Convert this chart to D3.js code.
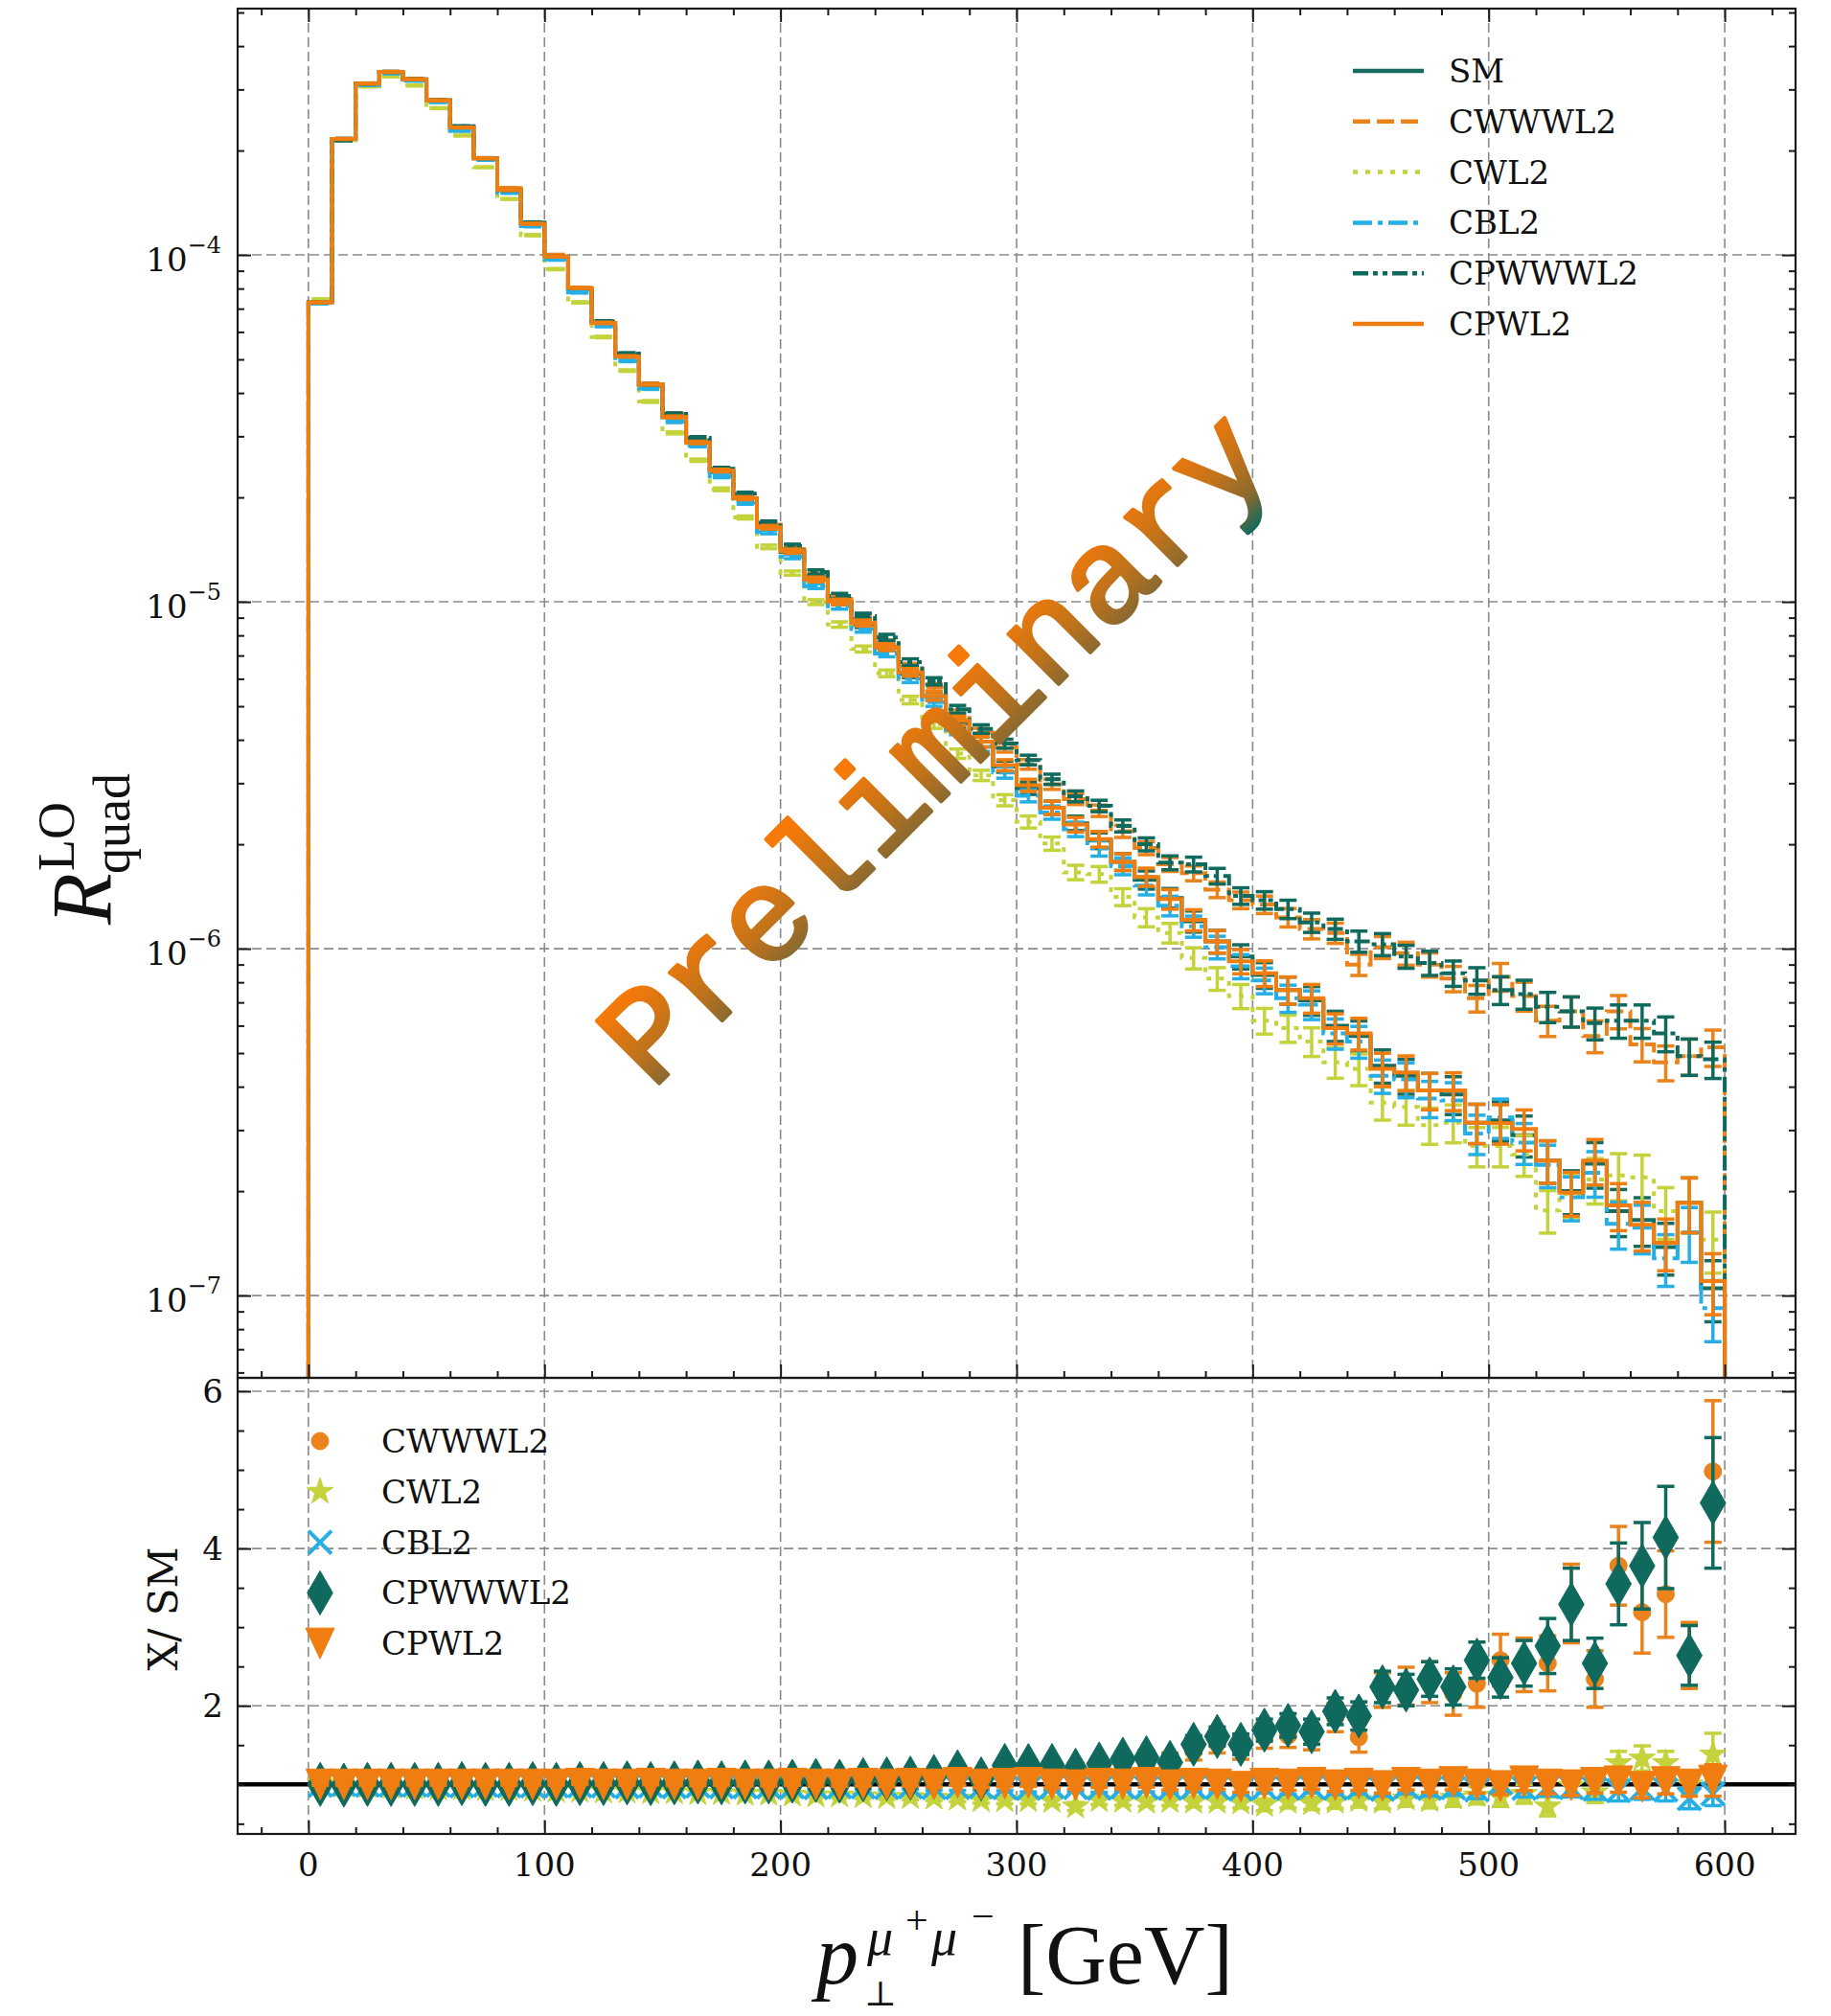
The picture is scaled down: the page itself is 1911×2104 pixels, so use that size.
<!DOCTYPE html>
<html>
<head>
<meta charset="utf-8">
<script src="https://cdn.jsdelivr.net/npm/d3@7"></script>
<style>
body { margin: 0; background: #fff; }
text { font-family: "DejaVu Serif", serif; fill: #111; }
</style>
</head>
<body>
<script>
// lower bin edges, 10 GeV bins
var binLo = [0,10,20,30,40,50,60,70,80,90,100,110,120,130,140,150,160,170,180,190,
  200,210,220,230,240,250,260,270,280,290,300,310,320,330,340,350,360,370,380,390,
  400,410,420,430,440,450,460,470,480,490,500,510,520,530,540,550,560,570,580,590];

// upper panel, R_quad per bin
var smVals = [7.3e-5,2.16e-4,3.12e-4,3.37e-4,3.21e-4,2.79e-4,2.33e-4,1.90e-4,1.54e-4,1.23e-4,
  9.9e-5,7.96e-5,6.37e-5,5.1e-5,4.2e-5,3.41e-5,2.88e-5,2.37e-5,1.99e-5,1.64e-5,
  1.39e-5,1.16e-5,1.0e-5,8.6e-6,7.4e-6,6.2e-6,5.35e-6,4.45e-6,3.95e-6,3.35e-6,
  2.9e-6,2.55e-6,2.3e-6,2.05e-6,1.78e-6,1.58e-6,1.40e-6,1.2e-6,1.05e-6,9.5e-7,
  8.4e-7,7.6e-7,7.1e-7,6.0e-7,5.6e-7,4.6e-7,4.3e-7,3.9e-7,3.8e-7,3.15e-7,
  3.2e-7,2.9e-7,2.45e-7,2.0e-7,2.4e-7,1.75e-7,1.65e-7,1.38e-7,1.85e-7,1.05e-7];
var cwwwVals = [7.3e-5,2.16e-4,3.12e-4,3.37e-4,3.21e-4,2.79e-4,2.33e-4,1.90e-4,1.56e-4,1.23e-4,
  1.0e-4,7.96e-5,6.43e-5,5.15e-5,4.2e-5,3.48e-5,2.91e-5,2.42e-5,2.01e-5,1.67e-5,
  1.42e-5,1.19e-5,1.02e-5,8.95e-6,7.6e-6,6.5e-6,5.67e-6,4.75e-6,4.2e-6,3.8e-6,
  3.4e-6,2.98e-6,2.7e-6,2.5e-6,2.18e-6,1.95e-6,1.75e-6,1.65e-6,1.48e-6,1.38e-6,
  1.34e-6,1.23e-6,1.14e-6,1.11e-6,9.0e-7,1.01e-6,9.7e-7,9.0e-7,8.2e-7,7.2e-7,
  8.3e-7,7.3e-7,6.2e-7,6.6e-7,5.6e-7,6.6e-7,5.3e-7,4.7e-7,4.9e-7,5.2e-7];
var cwVals = [7.45e-5,2.14e-4,3.06e-4,3.27e-4,3.08e-4,2.65e-4,2.21e-4,1.79e-4,1.45e-4,1.14e-4,
  9.1e-5,7.3e-5,5.8e-5,4.64e-5,3.78e-5,3.07e-5,2.56e-5,2.11e-5,1.75e-5,1.44e-5,
  1.21e-5,9.98e-6,8.6e-6,7.31e-6,6.22e-6,5.21e-6,4.44e-6,3.65e-6,3.16e-6,2.68e-6,
  2.32e-6,2.01e-6,1.66e-6,1.64e-6,1.41e-6,1.23e-6,1.11e-6,9.4e-7,8.2e-7,7.3e-7,
  6.2e-7,5.9e-7,5.4e-7,4.7e-7,4.5e-7,3.6e-7,3.5e-7,3.1e-7,3.15e-7,2.7e-7,
  2.7e-7,2.55e-7,1.76e-7,1.96e-7,2.16e-7,2.22e-7,2.19e-7,1.75e-7,1.85e-7,1.45e-7];
var cbVals = [7.25e-5,2.16e-4,3.09e-4,3.34e-4,3.18e-4,2.76e-4,2.28e-4,1.88e-4,1.51e-4,1.21e-4,
  9.7e-5,7.8e-5,6.24e-5,4.95e-5,4.12e-5,3.31e-5,2.82e-5,2.30e-5,1.93e-5,1.59e-5,
  1.35e-5,1.11e-5,9.7e-6,8.34e-6,7.1e-6,6.0e-6,5.14e-6,4.27e-6,3.83e-6,3.22e-6,
  2.76e-6,2.47e-6,2.21e-6,1.95e-6,1.73e-6,1.52e-6,1.33e-6,1.16e-6,1.01e-6,8.9e-7,
  8.1e-7,7.2e-7,6.9e-7,5.7e-7,5.4e-7,4.3e-7,4.2e-7,3.7e-7,3.65e-7,2.93e-7,
  3.26e-7,2.76e-7,2.38e-7,1.92e-7,2.26e-7,1.61e-7,1.57e-7,1.28e-7,1.52e-7,9.2e-8];
var cpwwwVals = [7.3e-5,2.14e-4,3.12e-4,3.37e-4,3.21e-4,2.79e-4,2.35e-4,1.90e-4,1.54e-4,1.24e-4,
  9.9e-5,8.04e-5,6.43e-5,5.2e-5,4.24e-5,3.48e-5,2.97e-5,2.42e-5,2.05e-5,1.69e-5,
  1.446e-5,1.218e-5,1.04e-5,9.1e-6,7.9e-6,6.7e-6,5.9e-6,4.9e-6,4.3e-6,3.9e-6,
  3.5e-6,3.08e-6,2.75e-6,2.58e-6,2.26e-6,2.0e-6,1.77e-6,1.75e-6,1.62e-6,1.42e-6,
  1.38e-6,1.3e-6,1.19e-6,1.14e-6,1.05e-6,1.03e-6,9.5e-7,9.1e-7,8.5e-7,8.1e-7,
  7.6e-7,7.4e-7,6.8e-7,6.6e-7,6.1e-7,6.2e-7,6.2e-7,5.7e-7,4.9e-7,4.8e-7];
var cpwVals = [7.3e-5,2.16e-4,3.12e-4,3.37e-4,3.21e-4,2.79e-4,2.33e-4,1.90e-4,1.54e-4,1.23e-4,
  9.9e-5,8.04e-5,6.37e-5,5.1e-5,4.24e-5,3.41e-5,2.88e-5,2.39e-5,1.99e-5,1.64e-5,
  1.40e-5,1.16e-5,1.0e-5,8.69e-6,7.4e-6,6.26e-6,5.35e-6,4.54e-6,3.95e-6,3.38e-6,
  2.96e-6,2.55e-6,2.28e-6,2.07e-6,1.78e-6,1.61e-6,1.39e-6,1.21e-6,1.05e-6,9.2e-7,
  8.5e-7,7.6e-7,7.2e-7,5.9e-7,5.7e-7,4.5e-7,4.4e-7,3.9e-7,3.9e-7,3.15e-7,
  3.14e-7,3.02e-7,2.45e-7,1.98e-7,2.45e-7,1.82e-7,1.6e-7,1.42e-7,1.85e-7,1.1e-7];

// relative stat. errors of the upper panel
var relErrLow = [.003,.003,.003,.003,.003,.003,.003,.003,.003,.004,
  .004,.004,.005,.005,.006,.007,.008,.009,.010,.012,
  .014,.016,.018,.020,.022,.025,.028,.031,.034,.037,
  .040,.044,.048,.052,.056,.060,.065,.070,.075,.080,
  .085,.090,.095,.100,.105,.110,.115,.120,.125,.130,
  .130,.135,.140,.145,.150,.155,.160,.170,.180,.200];
var relErrHigh = [.003,.003,.003,.003,.003,.003,.003,.003,.003,.004,
  .004,.004,.005,.005,.006,.007,.008,.009,.010,.012,
  .014,.015,.017,.019,.020,.022,.024,.026,.028,.030,
  .032,.034,.036,.038,.040,.043,.046,.049,.052,.055,
  .058,.061,.064,.067,.070,.073,.076,.080,.084,.088,
  .092,.096,.100,.100,.105,.110,.110,.115,.120,.120];

// lower panel, ratio X / SM
var rCWWWL2 = [1.00,1.00,1.00,1.00,1.00,1.00,1.00,1.00,1.01,1.00,
  1.01,1.00,1.01,1.01,1.00,1.02,1.01,1.02,1.01,1.02,
  1.02,1.03,1.02,1.04,1.03,1.05,1.06,1.12,1.10,1.20,
  1.22,1.20,1.20,1.24,1.28,1.30,1.30,1.42,1.52,1.45,
  1.60,1.62,1.60,1.85,1.60,2.20,2.25,2.30,2.15,2.28,
  2.58,2.52,2.54,3.30,2.34,3.78,3.19,3.42,2.64,4.98];
var rCWL2 = [1.02,0.99,0.98,0.97,0.96,0.95,0.95,0.94,0.94,0.93,
  0.92,0.92,0.91,0.91,0.90,0.90,0.89,0.89,0.88,0.88,
  0.87,0.86,0.86,0.85,0.84,0.84,0.83,0.82,0.80,0.80,
  0.80,0.79,0.72,0.80,0.79,0.78,0.79,0.78,0.78,0.77,
  0.74,0.78,0.76,0.78,0.80,0.78,0.82,0.80,0.83,0.86,
  0.84,0.88,0.72,0.98,0.90,1.27,1.33,1.27,1.00,1.38];
var rCBL2 = [0.99,1.00,0.99,0.99,0.99,0.99,0.98,0.99,0.98,0.98,
  0.98,0.98,0.98,0.97,0.98,0.97,0.98,0.97,0.97,0.97,
  0.97,0.96,0.97,0.97,0.96,0.97,0.96,0.96,0.97,0.96,
  0.95,0.97,0.96,0.95,0.97,0.96,0.95,0.97,0.96,0.94,
  0.96,0.95,0.97,0.95,0.96,0.94,0.97,0.95,0.96,0.93,
  1.02,0.95,0.97,0.96,0.94,0.92,0.95,0.93,0.82,0.88];
var rCPWWWL2 = [1.00,0.99,1.00,1.00,1.00,1.00,1.01,1.00,1.00,1.01,
  1.00,1.01,1.01,1.02,1.01,1.02,1.03,1.02,1.03,1.03,
  1.04,1.05,1.04,1.06,1.07,1.08,1.10,1.16,1.07,1.24,
  1.24,1.24,1.18,1.26,1.32,1.34,1.28,1.51,1.61,1.51,
  1.69,1.75,1.67,1.93,1.87,2.24,2.20,2.34,2.24,2.58,
  2.36,2.54,2.76,3.29,2.54,3.55,3.78,4.14,2.64,4.58];
var rCPWL2 = [1.00,1.00,1.00,1.00,1.00,1.00,1.00,1.00,1.00,1.00,
  1.00,1.01,1.00,1.00,1.01,1.00,1.00,1.01,1.00,1.00,
  1.01,1.00,1.00,1.01,1.00,1.01,1.00,1.02,1.00,1.01,
  1.02,1.00,0.99,1.01,1.00,1.02,0.99,1.01,1.00,0.97,
  1.01,1.00,1.02,0.99,1.01,0.98,1.02,1.00,1.03,1.00,
  0.98,1.04,1.00,0.99,1.02,1.04,0.97,1.03,1.00,1.05];

// absolute errors on the ratios
var eCWWWL2 = [.01,.01,.01,.01,.01,.01,.01,.01,.01,.01,
  .01,.01,.01,.015,.015,.015,.02,.02,.02,.025,
  .025,.03,.03,.035,.035,.04,.045,.05,.055,.06,
  .065,.07,.075,.08,.085,.09,.10,.11,.12,.13,
  .14,.15,.16,.18,.19,.22,.24,.26,.27,.30,
  .33,.34,.35,.50,.36,.50,.52,.55,.42,.90];
var eCWL2 = [.01,.01,.01,.01,.01,.01,.01,.01,.01,.01,
  .01,.01,.01,.015,.015,.015,.02,.02,.02,.02,
  .025,.025,.03,.03,.03,.035,.035,.04,.04,.045,
  .045,.05,.05,.055,.055,.06,.06,.065,.07,.07,
  .075,.08,.08,.085,.09,.09,.10,.10,.11,.11,
  .12,.12,.12,.13,.13,.15,.16,.15,.12,.27];
var eCBL2 = [.01,.01,.01,.01,.01,.01,.01,.01,.01,.01,
  .01,.01,.01,.01,.015,.015,.015,.02,.02,.02,
  .02,.025,.025,.03,.03,.03,.035,.035,.04,.04,
  .045,.045,.05,.05,.055,.055,.06,.06,.065,.07,
  .07,.075,.08,.08,.085,.09,.09,.10,.10,.11,
  .11,.11,.12,.12,.13,.13,.14,.14,.13,.15];
var eCPWWWL2 = [.01,.01,.01,.01,.01,.01,.01,.01,.01,.01,
  .01,.01,.01,.015,.015,.015,.02,.02,.02,.025,
  .025,.03,.03,.035,.035,.04,.045,.05,.055,.06,
  .065,.07,.075,.08,.085,.09,.10,.11,.12,.13,
  .14,.15,.16,.17,.18,.20,.20,.22,.23,.23,
  .25,.29,.35,.46,.32,.52,.55,.65,.38,.83];
var eCPWL2 = [.01,.01,.01,.01,.01,.01,.01,.01,.01,.01,
  .01,.01,.01,.01,.015,.015,.015,.02,.02,.02,
  .02,.025,.025,.03,.03,.03,.035,.035,.04,.04,
  .045,.045,.05,.05,.055,.055,.06,.06,.065,.07,
  .07,.075,.08,.08,.085,.09,.09,.10,.10,.11,
  .11,.12,.12,.13,.13,.14,.14,.15,.15,.20];

var xMajor = [0, 100, 200, 300, 400, 500, 600];
var yTopMajor = [1e-7, 1e-6, 1e-5, 1e-4];
var yBotMajor = [2, 4, 6];

var colors = {
  SM: "#176b5f", CWWWL2: "#ea831c", CWL2: "#c4d33c",
  CBL2: "#25afe4", CPWWWL2: "#0f6a5d", CPWL2: "#ef7d0f"
};

var W = 1911, H = 2104;
var left = 248, right = 1874, topY = 9, midY = 1438, botY = 1914;

var svg = d3.select("body").append("svg")
    .attr("width", W)
    .attr("height", H);

var x = d3.scaleLinear().domain([-30, 630]).range([left, right]);
var yTop = d3.scaleLog().domain([5.79e-8, 5.13e-4]).range([midY, topY]);
var yBot = d3.scaleLinear().domain([0.37, 6.17]).range([botY, midY]);

// grid
var grid = svg.append("g")
    .attr("stroke", "#8a8a8a")
    .attr("stroke-width", 1.6)
    .attr("stroke-dasharray", "10,5");
xMajor.forEach(function(v) {
  grid.append("line").attr("x1", x(v)).attr("x2", x(v)).attr("y1", topY).attr("y2", botY);
});
yTopMajor.forEach(function(v) {
  grid.append("line").attr("x1", left).attr("x2", right).attr("y1", yTop(v)).attr("y2", yTop(v));
});
yBotMajor.forEach(function(v) {
  grid.append("line").attr("x1", left).attr("x2", right).attr("y1", yBot(v)).attr("y2", yBot(v));
});

// upper panel histograms
var upper = [
  {name: "SM", vals: smVals, err: relErrLow, dash: null},
  {name: "CWWWL2", vals: cwwwVals, err: relErrHigh, dash: "18,7"},
  {name: "CWL2", vals: cwVals, err: relErrLow, dash: "5,8"},
  {name: "CBL2", vals: cbVals, err: relErrLow, dash: "20,6,5,6"},
  {name: "CPWWWL2", vals: cpwwwVals, err: relErrHigh, dash: "16,5,5,5,5,5"},
  {name: "CPWL2", vals: cpwVals, err: relErrLow, dash: null}
];

var floorVal = yTop.domain()[0];
var step = d3.line()
    .x(function(d) { return x(d[0]); })
    .y(function(d) { return yTop(d[1]); })
    .curve(d3.curveStepAfter);

var upG = svg.append("g");
upper.forEach(function(s) {
  var pts = [[0, floorVal]];
  binLo.forEach(function(b, i) { pts.push([b, s.vals[i]]); });
  pts.push([600, s.vals[s.vals.length - 1]]);
  pts.push([600, floorVal]);

  upG.append("path")
      .attr("d", step(pts))
      .attr("fill", "none")
      .attr("stroke", colors[s.name])
      .attr("stroke-width", 4)
      .attr("stroke-dasharray", s.dash);

  var eg = upG.append("g")
      .attr("stroke", colors[s.name])
      .attr("stroke-width", 3.5);
  binLo.forEach(function(b, i) {
    var cx = x(b + 5);
    var lo = yTop(s.vals[i] * (1 - s.err[i]));
    var hi = yTop(s.vals[i] * (1 + s.err[i]));
    eg.append("line").attr("x1", cx).attr("x2", cx).attr("y1", lo).attr("y2", hi);
    eg.append("line").attr("x1", cx - 9).attr("x2", cx + 9).attr("y1", lo).attr("y2", lo);
    eg.append("line").attr("x1", cx - 9).attr("x2", cx + 9).attr("y1", hi).attr("y2", hi);
  });
});

// custom markers
var triDown = {
  draw: function(ctx, size) {
    var w = Math.sqrt(size), h = w * 1.07;
    ctx.moveTo(-w, -h);
    ctx.lineTo(w, -h);
    ctx.lineTo(0, h);
    ctx.closePath();
  }
};
var xMark = {
  draw: function(ctx, size) {
    var r = Math.sqrt(size);
    ctx.moveTo(-r, -r); ctx.lineTo(r, r);
    ctx.moveTo(-r, r); ctx.lineTo(r, -r);
  }
};

// lower panel
svg.append("line")
    .attr("x1", left).attr("x2", right)
    .attr("y1", yBot(1)).attr("y2", yBot(1))
    .attr("stroke", "#000")
    .attr("stroke-width", 4.5);

var lower = [
  {name: "CWWWL2", vals: rCWWWL2, err: eCWWWL2, sym: d3.symbolCircle, size: 254},
  {name: "CWL2", vals: rCWL2, err: eCWL2, sym: d3.symbolStar, size: 240},
  {name: "CBL2", vals: rCBL2, err: eCBL2, sym: xMark, size: 144, line: true},
  {name: "CPWWWL2", vals: rCPWWWL2, err: eCPWWWL2, sym: d3.symbolDiamond, size: 611},
  {name: "CPWL2", vals: rCPWL2, err: eCPWL2, sym: triDown, size: 225}
];

function drawMarker(g, s, cx, cy) {
  var p = g.append("path")
      .attr("d", d3.symbol().type(s.sym).size(s.size)())
      .attr("transform", "translate(" + cx + "," + cy + ")");
  if (s.line) {
    p.attr("fill", "none").attr("stroke", colors[s.name]).attr("stroke-width", 4);
  } else {
    p.attr("fill", colors[s.name]).attr("stroke", colors[s.name]).attr("stroke-width", 1);
  }
}

var loG = svg.append("g");
lower.forEach(function(s) {
  var g = loG.append("g");
  var eg = g.append("g").attr("stroke", colors[s.name]).attr("stroke-width", 3.5);
  binLo.forEach(function(b, i) {
    var cx = x(b + 5);
    var lo = yBot(s.vals[i] - s.err[i]);
    var hi = yBot(s.vals[i] + s.err[i]);
    eg.append("line").attr("x1", cx).attr("x2", cx).attr("y1", lo).attr("y2", hi);
    eg.append("line").attr("x1", cx - 9).attr("x2", cx + 9).attr("y1", lo).attr("y2", lo);
    eg.append("line").attr("x1", cx - 9).attr("x2", cx + 9).attr("y1", hi).attr("y2", hi);
  });
  binLo.forEach(function(b, i) {
    drawMarker(g, s, x(b + 5), yBot(s.vals[i]));
  });
});

// frames
[[topY, midY], [midY, botY]].forEach(function(p) {
  svg.append("rect")
      .attr("x", left).attr("y", p[0])
      .attr("width", right - left).attr("height", p[1] - p[0])
      .attr("fill", "none")
      .attr("stroke", "#1a1a1a")
      .attr("stroke-width", 2.2);
});

// ticks, all pointing inwards
function ticks(gy, axis, vals, size) {
  var g = svg.append("g").attr("transform", gy);
  g.call(axis.tickValues(vals).tickSize(size).tickSizeOuter(0).tickFormat(""));
  g.select(".domain").remove();
  g.selectAll(".tick line").attr("stroke", "#1a1a1a").attr("stroke-width", 2);
}

var xMinor = d3.range(-20, 640, 20).filter(function(v) { return v % 100 !== 0; });
var yTopMinor = [];
[-8, -7, -6, -5, -4].forEach(function(e) {
  for (var k = 2; k <= 9; k++) {
    var v = k * Math.pow(10, e);
    if (v > yTop.domain()[0] && v < yTop.domain()[1]) yTopMinor.push(v);
  }
});
var yBotMinor = [0.5, 1, 1.5, 2.5, 3, 3.5, 4.5, 5, 5.5];

ticks("translate(0," + topY + ")", d3.axisTop(x), xMajor, -14);
ticks("translate(0," + topY + ")", d3.axisTop(x), xMinor, -7);
ticks("translate(0," + midY + ")", d3.axisBottom(x), xMajor, -14);
ticks("translate(0," + midY + ")", d3.axisBottom(x), xMinor, -7);
ticks("translate(0," + botY + ")", d3.axisBottom(x), xMajor, -14);
ticks("translate(0," + botY + ")", d3.axisBottom(x), xMinor, -7);
ticks("translate(" + left + ",0)", d3.axisLeft(yTop), yTopMajor, -14);
ticks("translate(" + left + ",0)", d3.axisLeft(yTop), yTopMinor, -7);
ticks("translate(" + right + ",0)", d3.axisRight(yTop), yTopMajor, -14);
ticks("translate(" + right + ",0)", d3.axisRight(yTop), yTopMinor, -7);
ticks("translate(" + left + ",0)", d3.axisLeft(yBot), yBotMajor, -14);
ticks("translate(" + left + ",0)", d3.axisLeft(yBot), yBotMinor, -7);
ticks("translate(" + right + ",0)", d3.axisRight(yBot), yBotMajor, -14);
ticks("translate(" + right + ",0)", d3.axisRight(yBot), yBotMinor, -7);

// tick labels
xMajor.forEach(function(v) {
  svg.append("text")
      .attr("x", x(v)).attr("y", 1958)
      .attr("text-anchor", "middle")
      .attr("font-size", 34)
      .text(v);
});
yTopMajor.forEach(function(v) {
  var e = Math.round(Math.log10(v));
  var t = svg.append("text")
      .attr("x", 231).attr("y", yTop(v) + 17)
      .attr("text-anchor", "end")
      .attr("font-size", 34);
  t.append("tspan").text("10");
  t.append("tspan").attr("dy", -19).attr("font-size", 24).text("\u2212" + Math.abs(e));
});
yBotMajor.forEach(function(v) {
  svg.append("text")
      .attr("x", 233).attr("y", yBot(v) + 12)
      .attr("text-anchor", "end")
      .attr("font-size", 34)
      .text(v);
});

// legends
var legUp = svg.append("g");
upper.forEach(function(s, i) {
  var ry = 74 + i * 52.8;
  legUp.append("line")
      .attr("x1", 1412).attr("x2", 1486).attr("y1", ry).attr("y2", ry)
      .attr("stroke", colors[s.name])
      .attr("stroke-width", 4.5)
      .attr("stroke-dasharray", s.dash);
  legUp.append("text")
      .attr("x", 1512).attr("y", ry + 12)
      .attr("font-size", 34)
      .text(s.name);
});

var legLo = svg.append("g");
lower.forEach(function(s, i) {
  var ry = 1504 + i * 52.8;
  drawMarker(legLo, s, 334, ry);
  legLo.append("text")
      .attr("x", 398).attr("y", ry + 12)
      .attr("font-size", 34)
      .text(s.name);
});

// axis labels
var xl = svg.append("text").style("font-family", "'Liberation Serif', serif");
xl.append("tspan").attr("x", 852).attr("y", 2070).attr("font-size", 88).attr("font-style", "italic").text("p");
xl.append("tspan").attr("x", 905).attr("y", 2040).attr("font-size", 54).attr("font-style", "italic").text("\u03bc");
xl.append("tspan").attr("x", 945).attr("y", 2018).attr("font-size", 42).text("+");
xl.append("tspan").attr("x", 972).attr("y", 2040).attr("font-size", 54).attr("font-style", "italic").text("\u03bc");
xl.append("tspan").attr("x", 1014).attr("y", 2014).attr("font-size", 42).text("\u2212");
xl.append("tspan").attr("x", 1062).attr("y", 2070).attr("font-size", 88).text("[GeV]");

svg.append("text")
    .attr("x", 919).attr("y", 2093)
    .attr("text-anchor", "middle")
    .attr("font-size", 36)
    .text("\u22a5");

var yl = svg.append("text")
    .attr("transform", "translate(115,965) rotate(-90)")
    .style("font-family", "'Liberation Serif', serif");
yl.append("tspan").attr("x", 0).attr("y", 0).attr("font-size", 88).attr("font-style", "italic").text("R");
yl.append("tspan").attr("x", 56).attr("y", -38).attr("font-size", 54).text("LO");
yl.append("tspan").attr("x", 53).attr("y", 20).attr("font-size", 54).text("quad");

svg.append("text")
    .attr("transform", "translate(185,1679) rotate(-90)")
    .attr("text-anchor", "middle")
    .attr("font-size", 42)
    .text("X/ SM");

// watermark
var grad = svg.append("defs").append("linearGradient")
    .attr("id", "wm")
    .attr("gradientUnits", "userSpaceOnUse")
    .attr("x1", 0).attr("y1", -54).attr("x2", 0).attr("y2", 68);
grad.append("stop").attr("offset", 0).attr("stop-color", "#f77a08");
grad.append("stop").attr("offset", 0.45).attr("stop-color", "#c2731a");
grad.append("stop").attr("offset", 0.77).attr("stop-color", "#8a6a30");
grad.append("stop").attr("offset", 1).attr("stop-color", "#13695d");

svg.append("text")
    .attr("transform", "translate(980,785) rotate(-45)")
    .attr("x", 0).attr("y", 38)
    .attr("text-anchor", "middle")
    .style("font-family", "'Liberation Mono', monospace")
    .style("fill", "url(#wm)")
    .style("stroke", "url(#wm)")
    .style("stroke-width", 4)
    .style("stroke-linejoin", "round")
    .attr("font-size", 140)
    .text("Preliminary");
</script>
</body>
</html>
